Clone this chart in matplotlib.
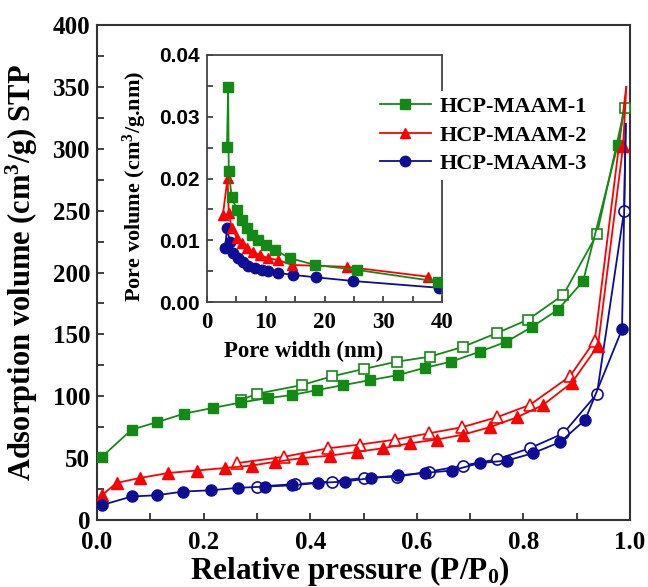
import matplotlib
matplotlib.use("Agg")
import matplotlib.pyplot as plt
from matplotlib.ticker import MultipleLocator

# ---------------- data ----------------
labels = ["HCP-MAAM-1", "HCP-MAAM-2", "HCP-MAAM-3"]
colors = ["#138a13", "#ff0000", "#0d0d96"]

# Isotherms (adsorption: filled, desorption: open)
g_ads_x = [0.009, 0.065, 0.112, 0.164, 0.217, 0.27, 0.321, 0.366, 0.413, 0.462, 0.512, 0.564,
           0.615, 0.665, 0.718, 0.768, 0.816, 0.865, 0.912, 0.977, 0.99]
g_ads_y = [51, 73, 79, 86, 90.5, 95, 98.5, 101, 105, 109, 113, 117,
           123, 128, 136, 144, 156, 170, 193, 303, 333]
g_des_x = [0.99, 0.938, 0.875, 0.809, 0.75, 0.687, 0.625, 0.563, 0.5, 0.44, 0.384, 0.30, 0.27]
g_des_y = [333, 231, 182, 162, 151, 140, 132, 128, 122, 116, 109, 102, 97]

r_ads_x = [0.009, 0.037, 0.081, 0.134, 0.187, 0.24, 0.29, 0.334, 0.384, 0.437, 0.487, 0.537,
           0.587, 0.637, 0.687, 0.737, 0.788, 0.837, 0.891, 0.94, 0.987, 0.993]
r_ads_y = [20, 30, 34, 38, 40, 42, 44, 47, 50, 52, 55, 58,
           62, 65, 69, 75, 83, 93, 111, 141, 302, 350]
r_des_x = [0.993, 0.934, 0.887, 0.812, 0.75, 0.685, 0.622, 0.56, 0.494, 0.434, 0.35, 0.263]
r_des_y = [350, 145, 116, 93, 83, 75, 70, 65, 61, 58, 51, 46]

b_ads_x = [0.009, 0.065, 0.112, 0.162, 0.213, 0.265, 0.315, 0.365, 0.415, 0.465, 0.515, 0.565,
           0.615, 0.666, 0.718, 0.769, 0.818, 0.869, 0.916, 0.985, 0.992]
b_ads_y = [12, 19, 20, 23, 24, 26, 27, 28, 30, 31, 34, 36,
           38, 40, 46, 48, 54, 63, 81, 154, 320]
b_des_x = [0.992, 0.989, 0.938, 0.875, 0.812, 0.75, 0.687, 0.622, 0.562, 0.5, 0.44, 0.372, 0.30]
b_des_y = [320, 250, 102, 70, 58, 49, 44, 39, 35, 34, 31, 29, 27]

# Pore size distribution (inset)
g_psd_x = [3.4, 3.6, 3.7, 4.2, 5.1, 6.0, 6.8, 7.6, 8.7, 10.0, 11.6, 14.1, 18.4, 25.5, 39.3]
g_psd_y = [0.0251, 0.0348, 0.0212, 0.0170, 0.0149, 0.0133, 0.0120, 0.0109, 0.0100, 0.0092,
           0.0084, 0.0071, 0.0060, 0.0052, 0.0033]
r_psd_x = [2.7, 3.5, 3.7, 4.2, 5.1, 6.0, 6.8, 7.8, 9.0, 10.4, 12.1, 14.5, 23.8, 37.6]
r_psd_y = [0.0141, 0.0201, 0.0144, 0.0120, 0.0104, 0.0096, 0.0088, 0.0081, 0.0076, 0.0071,
           0.0068, 0.0060, 0.0057, 0.0041]
b_psd_x = [3.1, 3.4, 3.9, 4.4, 5.3, 6.1, 7.0, 8.2, 9.4, 10.4, 12.1, 14.6, 18.5, 24.9, 39.5]
b_psd_y = [0.0087, 0.0120, 0.0097, 0.0079, 0.0071, 0.0064, 0.0058, 0.0055, 0.0052, 0.0050,
           0.0047, 0.0044, 0.0040, 0.0034, 0.0023]

# ---------------- plotting ----------------
serif = ["Liberation Serif", "DejaVu Serif"]
sans = ["Liberation Sans", "DejaVu Sans"]
plt.rcParams["font.family"] = serif
plt.rcParams["font.weight"] = "bold"
plt.rcParams["mathtext.fontset"] = "custom"
plt.rcParams["mathtext.rm"] = "Liberation Serif:bold"
plt.rcParams["mathtext.it"] = "Liberation Serif:bold"
plt.rcParams["mathtext.bf"] = "Liberation Serif:bold"

fig = plt.figure(figsize=(6.48, 5.87), dpi=100)
ax = fig.add_axes([97 / 648, 1 - 520 / 587, 533 / 648, 495 / 587])

ms_sq, ms_tri, ms_c = 7.0, 8.0, 8.0
lw = 1.3

def iso(xa, ya, xd, yd, color, marker, ms, hide_top_ads=False, hide_top_des=False):
    me_a = list(range(len(xa) - 1)) if hide_top_ads else None
    me_d = list(range(1, len(xd))) if hide_top_des else None
    ax.plot(xd, yd, color=color, lw=lw, marker=marker, ms=ms, mfc="white", mec=color,
            mew=1.2, markevery=me_d, zorder=3)
    ax.plot(xa, ya, color=color, lw=lw, marker=marker, ms=ms, mfc=color, mec=color,
            markevery=me_a, zorder=4)

iso(g_ads_x, g_ads_y, g_des_x, g_des_y, colors[0], "s", ms_sq, hide_top_ads=True)
iso(r_ads_x, r_ads_y, r_des_x, r_des_y, colors[1], "^", ms_tri, hide_top_ads=True, hide_top_des=True)
iso(b_ads_x, b_ads_y, b_des_x, b_des_y, colors[2], "o", ms_c, hide_top_ads=True, hide_top_des=True)

ax.set_xlim(0, 1.0)
ax.set_ylim(0, 400)
ax.xaxis.set_major_locator(MultipleLocator(0.2))
ax.xaxis.set_minor_locator(MultipleLocator(0.1))
ax.yaxis.set_major_locator(MultipleLocator(50))
ax.yaxis.set_minor_locator(MultipleLocator(25))
ax.set_xticks([0, 0.2, 0.4, 0.6, 0.8, 1.0])
ax.set_xticklabels(["0.0", "0.2", "0.4", "0.6", "0.8", "1.0"])
ax.tick_params(which="both", direction="in", top=False, right=False, length=5, width=1.2,
               labelsize=18, colors="#222222", labelcolor="black")
ax.tick_params(axis="x", pad=8)
ax.tick_params(axis="y", pad=5)
for sp in ax.spines.values():
    sp.set_linewidth(1.5)
    sp.set_color("#333333")
ax.set_xlabel(r"Relative pressure (P/P$_0$)", fontsize=22.5, fontweight="bold")
ax.xaxis.set_label_coords(0.475, -0.068)
ax.set_ylabel(r"Adsorption volume (cm$^3$/g) STP", fontsize=22, fontweight="bold")
ax.yaxis.set_label_coords(-0.107, 0.5)

# inset
ins = fig.add_axes([207 / 648, 1 - 302 / 587, 235 / 648, 247 / 587])
ins.plot(g_psd_x, g_psd_y, color=colors[0], lw=lw, marker="s", ms=6.5, zorder=3)
ins.plot(r_psd_x, r_psd_y, color=colors[1], lw=lw, marker="^", ms=7.5, zorder=2)
ins.plot(b_psd_x, b_psd_y, color=colors[2], lw=lw, marker="o", ms=7.5, zorder=1)
ins.set_xlim(0, 40)
ins.set_ylim(0, 0.04)
ins.xaxis.set_major_locator(MultipleLocator(10))
ins.xaxis.set_minor_locator(MultipleLocator(5))
ins.yaxis.set_major_locator(MultipleLocator(0.01))
ins.yaxis.set_minor_locator(MultipleLocator(0.005))
ins.set_yticks([0, 0.01, 0.02, 0.03, 0.04])
ins.set_yticklabels(["0.00", "0.01", "0.02", "0.03", "0.04"], family=sans, fontweight="bold")
ins.tick_params(which="both", direction="in", top=False, right=False, length=4, width=1.1,
                colors="#222222", labelcolor="black")
ins.tick_params(axis="x", labelsize=16.5, pad=7)
ins.tick_params(axis="y", labelsize=15, pad=5)
for sp in ins.spines.values():
    sp.set_linewidth(1.3)
    sp.set_color("#444444")
ins.set_xlabel("Pore width (nm)", fontsize=16.5, fontweight="bold")
ins.xaxis.set_label_coords(0.41, -0.156)
ins.set_ylabel(r"Pore volume (cm$^3$/g.nm)", fontsize=16, fontweight="bold")
ins.yaxis.set_label_coords(-0.246, 0.47)

# legend (figure level, drawn above the inset)
handles = [
    plt.Line2D([], [], color=colors[0], lw=lw, marker="s", ms=6.5),
    plt.Line2D([], [], color=colors[1], lw=lw, marker="^", ms=7.5),
    plt.Line2D([], [], color=colors[2], lw=lw, marker="o", ms=7.5),
]
leg = fig.legend(handles, labels, loc="upper left", bbox_to_anchor=(374 / 648, 1 - 91 / 587),
                 frameon=True, facecolor="white", edgecolor="none", framealpha=1,
                 prop={"family": serif, "weight": "bold", "size": 16},
                 handlelength=2.3, handletextpad=0.4, labelspacing=0.36, borderpad=0.25,
                 borderaxespad=0)

fig.savefig("out.png", dpi=100)
